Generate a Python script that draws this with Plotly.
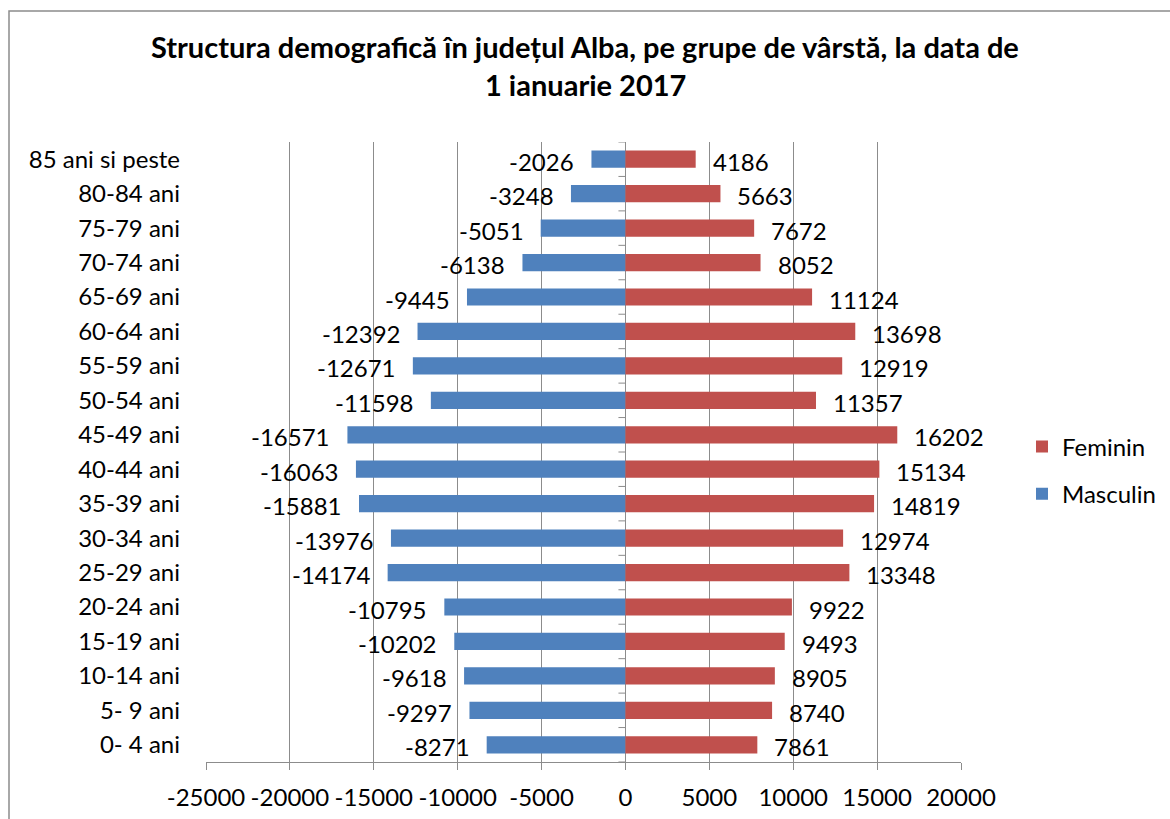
import plotly.graph_objects as go

# Age groups, youngest at the bottom
age_groups = [
    "0- 4 ani", "5- 9 ani", "10-14 ani", "15-19 ani", "20-24 ani", "25-29 ani",
    "30-34 ani", "35-39 ani", "40-44 ani", "45-49 ani", "50-54 ani", "55-59 ani",
    "60-64 ani", "65-69 ani", "70-74 ani", "75-79 ani", "80-84 ani", "85 ani si peste",
]
masculin = [
    -8271, -9297, -9618, -10202, -10795, -14174, -13976, -15881, -16063, -16571,
    -11598, -12671, -12392, -9445, -6138, -5051, -3248, -2026,
]
feminin = [
    7861, 8740, 8905, 9493, 9922, 13348, 12974, 14819, 15134, 16202,
    11357, 12919, 13698, 11124, 8052, 7672, 5663, 4186,
]
x_ticks = [-25000, -20000, -15000, -10000, -5000, 0, 5000, 10000, 15000, 20000]
title_lines = [
    "Structura demografică în județul Alba, pe grupe de vârstă, la data de",
    "1 ianuarie 2017",
]
header_text = "Structura populației, pe județe, la 1 ianuarie 2017, pe grupe de vârstă"

BLUE = "#4F81BD"
RED = "#C0504D"
GRID = "#8c8c8c"
FONT = "Lato"

# plot area in pixels
W, H = 1170, 819
L, R, T, B = 206, 209, 142, 57
PW, PH = W - L - R, H - T - B


def px_x(p):
    return (p - L) / PW


def px_y(p):
    return (H - B - p) / PH


fig = go.Figure()
fig.add_trace(go.Bar(
    y=age_groups, x=masculin, orientation="h", name="Masculin",
    marker=dict(color=BLUE, line=dict(width=0)), width=0.5,
    legendgroup="m", legendrank=2, hoverinfo="x+y",
))
fig.add_trace(go.Bar(
    y=age_groups, x=feminin, orientation="h", name="Feminin",
    marker=dict(color=RED, line=dict(width=0)), width=0.5,
    legendgroup="f", legendrank=1, hoverinfo="x+y",
))

annotations = []
# value labels just past the end of each bar
for cat, v in zip(age_groups, masculin):
    annotations.append(dict(
        x=v, y=cat, xref="x", yref="y", text=str(v), showarrow=False,
        xanchor="right", yanchor="middle", xshift=-15, yshift=-2,
        font=dict(family=FONT, size=24, color="#000"),
    ))
for cat, v in zip(age_groups, feminin):
    annotations.append(dict(
        x=v, y=cat, xref="x", yref="y", text=str(v), showarrow=False,
        xanchor="left", yanchor="middle", xshift=15, yshift=-2,
        font=dict(family=FONT, size=24, color="#000"),
    ))

# chart title, one annotation per line
for line, ypx in zip(title_lines, [46, 84]):
    annotations.append(dict(
        x=px_x(585), xref="paper", y=px_y(ypx), yref="paper", text=f"<b>{line}</b>",
        showarrow=False, xanchor="center", yanchor="middle",
        font=dict(family=FONT, size=29, color="#000"),
    ))

# running header of the page above the chart frame
annotations.append(dict(
    x=px_x(62), xref="paper", y=px_y(0), yref="paper", text=f"<b>{header_text}</b>",
    showarrow=False, xanchor="left", yanchor="bottom", borderpad=0,
    font=dict(family="Liberation Serif", size=21, color="#000"),
))

shapes = [
    # chart frame
    dict(type="rect", xref="paper", yref="paper",
         x0=px_x(9), x1=px_x(1180), y0=px_y(830), y1=px_y(11),
         line=dict(color=GRID, width=1.5), fillcolor="rgba(0,0,0,0)", layer="below"),
]
# small tick marks on the category axis at x = 0, between groups
for i in range(len(age_groups) + 1):
    shapes.append(dict(
        type="line", xref="x", yref="y", xsizemode="pixel", xanchor=0,
        x0=-7, x1=0, y0=i - 0.5, y1=i - 0.5,
        line=dict(color=GRID, width=1),
    ))

fig.update_layout(
    width=W, height=H,
    margin=dict(l=L, r=R, t=T, b=B, autoexpand=False),
    paper_bgcolor="white", plot_bgcolor="white",
    barmode="overlay", bargap=0.5,
    showlegend=True,
    legend=dict(
        xref="container", yref="container",
        x=1022 / W, xanchor="left", y=(H - 470.5) / H, yanchor="middle",
        font=dict(family=FONT, size=24, color="#000"),
        tracegroupgap=13, bgcolor="rgba(0,0,0,0)",
    ),
    annotations=annotations,
    shapes=shapes,
    font=dict(family=FONT, size=24, color="#000"),
    xaxis=dict(
        range=[x_ticks[0], x_ticks[-1]],
        tickvals=x_ticks, ticktext=[str(t) for t in x_ticks],
        showgrid=True, gridcolor=GRID, gridwidth=1,
        zeroline=True, zerolinecolor=GRID, zerolinewidth=1,
        showline=True, linecolor=GRID, linewidth=1,
        ticks="outside", ticklen=7, tickcolor=GRID,
        ticklabelstandoff=7, automargin=False,
        tickfont=dict(family=FONT, size=24, color="#000"),
        fixedrange=True,
    ),
    yaxis=dict(
        categoryorder="array", categoryarray=age_groups,
        range=[-0.5, len(age_groups) - 0.5],
        showgrid=False, zeroline=False, showline=False, ticks="",
        ticklabelstandoff=25, automargin=False,
        tickfont=dict(family=FONT, size=24, color="#000"),
        fixedrange=True,
    ),
)

fig.write_html("out.html")
